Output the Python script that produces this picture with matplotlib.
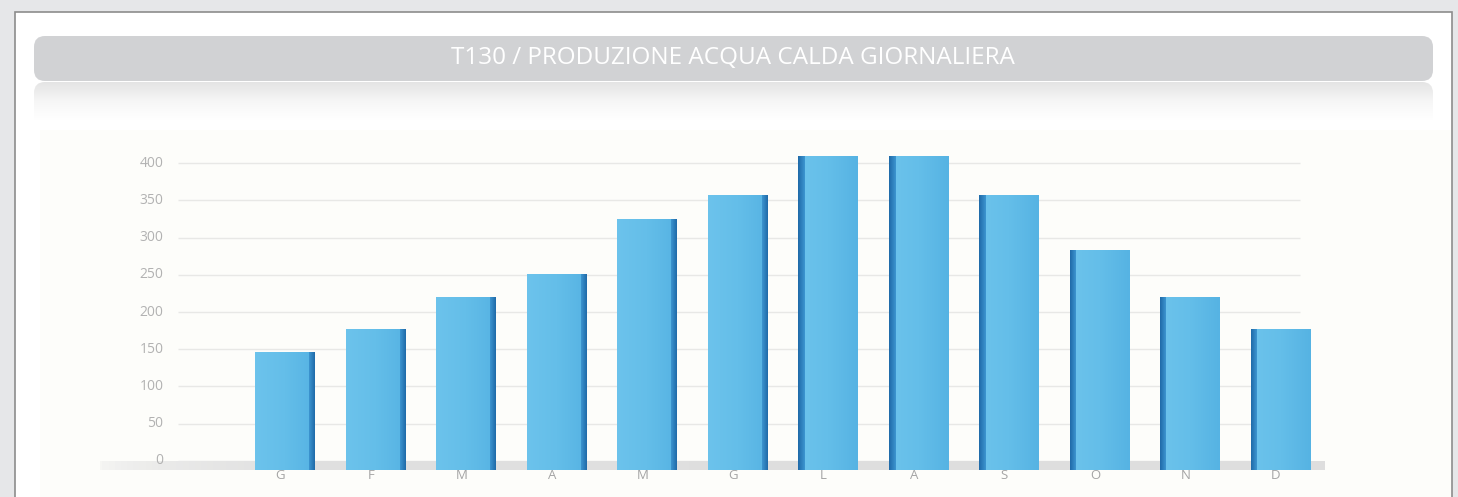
import numpy as np
import matplotlib.pyplot as plt
from matplotlib.patches import Rectangle, FancyBboxPatch
from matplotlib.colors import LinearSegmentedColormap

plt.rcParams['font.family'] = ['Open Sans', 'DejaVu Sans']

########## data ##########
title = 'T130 / PRODUZIONE ACQUA CALDA GIORNALIERA'
months = ['G', 'F', 'M', 'A', 'M', 'G', 'L', 'A', 'S', 'O', 'N', 'D']
values = [146, 177, 220, 251, 325, 357, 410, 410, 357, 283, 220, 177]
y_ticks = [0, 50, 100, 150, 200, 250, 300, 350, 400]

W, H = 1458, 497
fig = plt.figure(figsize=(W / 100, H / 100), dpi=100)
fig.patch.set_facecolor('#e6e7e9')

# background frame, drawn in pixel coords
bg = fig.add_axes([0, 0, 1, 1])
bg.set_xlim(0, W)
bg.set_ylim(H, 0)
bg.axis('off')
bg.add_patch(Rectangle((15, 12), 1437, 495, facecolor='white', edgecolor='#8c8c8c', lw=1.2))
bg.add_patch(Rectangle((40, 130), 1411, 380, facecolor='#fdfdfa', edgecolor='none'))

# fading strip under the title bar
fade = FancyBboxPatch((34, 82), 1399, 60, boxstyle='round,pad=0,rounding_size=11',
                      facecolor='none', edgecolor='none')
bg.add_patch(fade)
grad = np.linspace(0, 1, 100).reshape(-1, 1)
fade_cmap = LinearSegmentedColormap.from_list('f', ['#e4e4e4', '#f6f6f6', '#ffffff'])
im = bg.imshow(grad, cmap=fade_cmap, extent=(34, 1433, 120, 82), aspect='auto', zorder=1)
im.set_clip_path(fade)

bar_title = FancyBboxPatch((34, 36), 1399, 45, boxstyle='round,pad=0,rounding_size=11',
                           facecolor='#d1d2d4', edgecolor='none', zorder=2)
bg.add_patch(bar_title)
bg.text(733, 58.5, title, color='white', fontsize=17.5, fontweight='medium',
        ha='center', va='center', zorder=3)

# chart axes
px0, px_step = 285, 90.5
ax_l, ax_r = 100, 1325
ax_t, ax_b = 130, 472
y0_px, y_scale = 460.7, 0.7435
ax = fig.add_axes([ax_l / W, 1 - ax_b / H, (ax_r - ax_l) / W, (ax_b - ax_t) / H])
ax.patch.set_alpha(0)
xlim = ((ax_l - px0) / px_step, (ax_r - px0) / px_step)
ylim = (-(ax_b - y0_px) / y_scale, (y0_px - ax_t) / y_scale)
ax.set_xlim(*xlim)
ax.set_ylim(*ylim)
ax.axis('off')

g0, g1 = (178 - px0) / px_step, (1300 - px0) / px_step
for t in y_ticks:
    ax.hlines(t, g0, g1, color='#e8e8e6', lw=1.0, zorder=1)
    ax.text(g0 - 0.16, t, str(t), color='#b2b2b2', fontsize=10, ha='right', va='center')

# floor shadow
x_floor0 = (90 - px0) / px_step
floor_w = (1325 - 90) / px_step
floor_cmap = LinearSegmentedColormap.from_list('fl', ['#fdfdfa', '#e0e0e0', '#dedede'])
ax.imshow(np.linspace(0, 1, 200).reshape(1, -1) ** 0.4, cmap=floor_cmap, aspect='auto',
          extent=(x_floor0, x_floor0 + floor_w, -12, 0), zorder=1)

x = np.arange(len(months))
bw = 60 / px_step
side = 6 / px_step
body_cmap = LinearSegmentedColormap.from_list('b', ['#6cc3ec', '#64bee9', '#56b3e3'])
side_cmap = LinearSegmentedColormap.from_list('s', ['#3d95d0', '#1f6aa8'])
hgrad = np.linspace(0, 1, 60).reshape(1, -1)
for i, v in enumerate(values):
    left = x[i] - bw / 2
    ax.imshow(hgrad, cmap=body_cmap, aspect='auto', extent=(left, left + bw, -12, v), zorder=3)
    # darker side face gives a bit of depth
    if i < 6:
        ax.imshow(hgrad, cmap=side_cmap, aspect='auto',
                  extent=(left + bw - side, left + bw, -12, v), zorder=4)
    else:
        ax.imshow(hgrad[:, ::-1], cmap=side_cmap, aspect='auto',
                  extent=(left, left + side, -12, v), zorder=4)

for i, m in enumerate(months):
    ax.text(x[i] - 0.05, -20.5, m, color='#a4a4a4', fontsize=9.5, ha='center', va='center')

ax.set_xlim(*xlim)
ax.set_ylim(*ylim)

fig.savefig('out.png', dpi=100)
